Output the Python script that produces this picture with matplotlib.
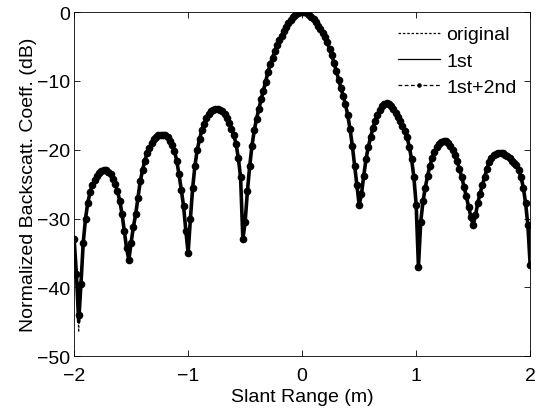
import matplotlib
matplotlib.use("Agg")
import matplotlib.pyplot as plt
import numpy as np

plt.rcParams['font.family'] = ['Liberation Sans', 'DejaVu Sans']

# slant range samples (m), -2 .. 2 every 0.02
slant_range = np.round(np.arange(-2.0, 2.0001, 0.02), 2)

# normalized backscattering coefficient (dB)
y_original = [
    -33.0, -38.0, -46.5, -39.5, -33.5, -30.0, -27.7, -26.2, -25.2, -24.4,   # -2.00 .. -1.82
    -23.8, -23.4, -23.1, -23.0, -23.0, -23.2, -23.6, -24.2, -25.0, -26.0,   # -1.80 .. -1.62
    -27.4, -29.3, -31.8, -34.3, -36.0, -33.5, -31.2, -29.4, -27.0, -24.6,   # -1.60 .. -1.42
    -23.0, -21.6, -20.5, -19.7, -19.0, -18.5, -18.1, -17.9, -17.8, -17.8,   # -1.40 .. -1.22
    -17.9, -18.2, -18.7, -19.3, -20.2, -21.6, -23.6, -25.8, -28.2, -31.8,   # -1.20 .. -1.02
    -35.0, -30.0, -25.5, -22.3, -20.0, -18.5, -17.2, -16.2, -15.4, -14.8,   # -1.00 .. -0.82
    -14.4, -14.2, -14.1, -14.1, -14.2, -14.4, -14.8, -15.4, -16.1, -17.0,   # -0.80 .. -0.62
    -17.9, -19.1, -21.2, -24.0, -33.0, -30.5, -26.0, -22.4, -19.4, -17.2,   # -0.60 .. -0.42
    -15.5, -14.1, -12.7, -11.4, -10.1, -8.7, -7.6, -6.6, -5.7, -4.8,        # -0.40 .. -0.22
    -4.1, -3.4, -2.8, -2.2, -1.6, -1.1, -0.7, -0.4, -0.2, -0.05,            # -0.20 .. -0.02
    0.0,                                                                    # 0.00
    -0.05, -0.2, -0.4, -0.7, -1.0, -1.5, -2.0, -2.5, -3.0, -3.6,            # 0.02 .. 0.20
    -4.4, -5.3, -6.3, -7.4, -8.6, -9.8, -11.0, -12.2, -13.4, -15.0,         # 0.22 .. 0.40
    -17.0, -19.4, -22.3, -25.2, -28.0, -26.5, -23.8, -21.4, -19.6, -18.2,   # 0.42 .. 0.60
    -16.9, -15.8, -14.9, -14.2, -13.7, -13.3, -13.2, -13.3, -13.6, -14.1,   # 0.62 .. 0.80
    -14.6, -15.2, -15.8, -16.6, -17.3, -18.2, -19.6, -21.4, -24.0, -28.0,   # 0.82 .. 1.00
    -37.0, -30.5, -27.5, -25.5, -23.8, -22.4, -21.2, -20.3, -19.6, -19.1,   # 1.02 .. 1.20
    -18.9, -18.8, -18.8, -19.0, -19.4, -20.0, -20.8, -21.7, -22.8, -24.0,   # 1.22 .. 1.40
    -25.4, -26.8, -28.3, -29.8, -31.0, -29.5, -27.8, -26.4, -25.2, -24.0,   # 1.42 .. 1.60
    -22.8, -21.8, -21.2, -20.8, -20.6, -20.5, -20.5, -20.5, -20.7, -20.9,   # 1.62 .. 1.80
    -21.2, -21.6, -22.0, -22.2, -23.0, -24.0, -25.5, -27.8, -31.0, -36.8,   # 1.82 .. 2.00
]

# the corrected curves only differ from the original at the first null
y_first = list(y_original)
y_first[2] = -45.0
y_first_second = list(y_original)
y_first_second[2] = -44.0

fig = plt.figure(figsize=(5.41, 4.10), dpi=100)
ax = fig.add_axes([0.137, 0.129, 0.843, 0.839])

ax.plot(slant_range, y_original, color='black', lw=0.8, ls=(0, (2, 1.5)), label='original')
ax.plot(slant_range, y_first, color='black', lw=2.6, ls='-', label='1st')
ax.plot(slant_range, y_first_second, color='black', lw=0.8, ls=(0, (3, 2)),
        marker='o', markersize=4.5, label='1st+2nd')

ax.set_xlim(-2, 2)
ax.set_ylim(-50, 0)
ax.set_xticks([-2, -1, 0, 1, 2])
ax.set_yticks([-50, -40, -30, -20, -10, 0])
ax.tick_params(direction='in', top=True, right=True, labelsize=14, length=4, width=0.6)
ax.tick_params(axis='x', pad=8)
ax.tick_params(axis='y', pad=3)
for s in ax.spines.values():
    s.set_linewidth(0.6)

ax.set_xlabel('Slant Range (m)', fontsize=14, labelpad=3)
ax.set_ylabel('Normalized Backscatt. Coeff. (dB)', fontsize=14, labelpad=0)

leg = ax.legend(loc='upper right', frameon=False, fontsize=14, numpoints=1,
                handlelength=2.2, handletextpad=0.3, labelspacing=0.45,
                borderaxespad=0.3, markerscale=0.5)
# thin lines in the legend keys
for h in leg.get_lines():
    h.set_linewidth(0.9)

fig.savefig('out.png', dpi=100)
